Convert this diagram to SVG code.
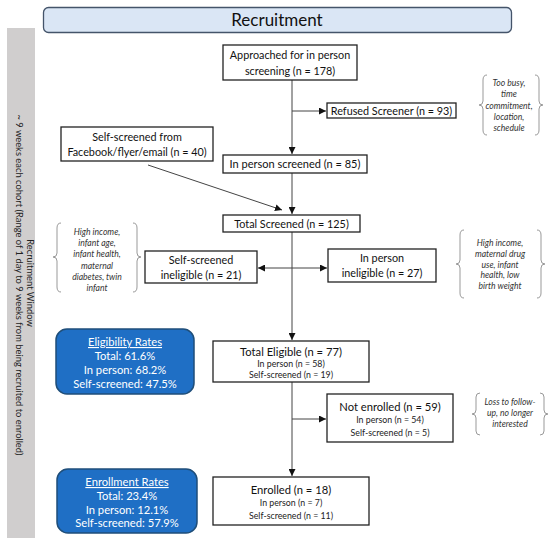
<svg xmlns="http://www.w3.org/2000/svg" width="550" height="549" viewBox="0 0 550 549">
<defs>
<marker id="ah" viewBox="0 0 10 10" refX="10" refY="5" markerWidth="7" markerHeight="7" markerUnits="userSpaceOnUse" orient="auto-start-reverse">
<path d="M0,0 L10,5 L0,10 Z" fill="#111"/>
</marker>
<style>
.box{fill:#fff;stroke:#222;stroke-width:1.3}
.t{font-family:Lato,"Liberation Sans",sans-serif;font-size:10.8px;fill:#111;text-anchor:middle}
.h{font-family:Lato,"Liberation Sans",sans-serif;font-size:11.2px;fill:#111;text-anchor:middle}
.s{font-family:Lato,"Liberation Sans",sans-serif;font-size:8.8px;fill:#222;text-anchor:middle}
.n{font-family:Lato,"Liberation Sans",sans-serif;font-size:8.6px;font-style:italic;fill:#333;text-anchor:middle}
.br{fill:none;stroke:#999;stroke-width:1}
.rate{fill:#1f6fc5;stroke:#1f4e79;stroke-width:1.5}
.w{font-family:Lato,"Liberation Sans",sans-serif;font-size:11.2px;fill:#fff;text-anchor:middle}
.ln{fill:none;stroke:#444;stroke-width:1}
.v{font-family:Lato,"Liberation Sans",sans-serif;font-size:9.4px;fill:#222;text-anchor:middle}
</style>
</defs>
<rect width="550" height="549" fill="#fff"/>

<g id="title">
<rect x="43.5" y="7.5" width="468" height="25" rx="5" fill="#dae6f5" stroke="#44546a" stroke-width="1.3"/>
<text x="277" y="26" class="t" style="font-size:17px">Recruitment</text>
</g>

<g id="window">
<rect x="7" y="28" width="28" height="510" fill="#d0cece"/>
<text transform="translate(27,283) rotate(90)" class="v">Recruitment Window</text>
<text transform="translate(16,285) rotate(90)" class="v">~ 9 weeks each cohort (Range of 1 day to 9 weeks from being recruited to enrolled)</text>
</g>

<g id="connectors">
<path class="ln" d="M292,80 V154" marker-end="url(#ah)"/>
<path class="ln" d="M292,111 H326" marker-end="url(#ah)"/>
<path class="ln" d="M292,173 V214" marker-end="url(#ah)"/>
<path class="ln" d="M148,165 L282,210" marker-end="url(#ah)"/>
<path class="ln" d="M292,232 V340" marker-end="url(#ah)"/>
<path class="ln" d="M258,268 H327" marker-start="url(#ah)" marker-end="url(#ah)"/>
<path class="ln" d="M292,382 V476" marker-end="url(#ah)"/>
<path class="ln" d="M292,419 H326" marker-end="url(#ah)"/>
</g>

<g id="approached">
<rect class="box" x="223" y="45" width="134" height="35"/>
<text x="290" y="59" class="t">Approached for in person</text>
<text x="290" y="74.5" class="t">screening (n = 178)</text>
</g>

<g id="refused">
<rect class="box" x="327" y="103" width="129" height="15"/>
<text x="391.5" y="114.5" class="t">Refused Screener (n = 93)</text>
</g>

<g id="note-refused">
<path class="br" d="M487,75 Q483,75 483,80 L483,101 Q483,105 479,105 Q483,105 483,109 L483,130 Q483,135 487,135"/>
<path class="br" d="M535,75 Q539,75 539,80 L539,101 Q539,105 543,105 Q539,105 539,109 L539,130 Q539,135 535,135"/>
<text x="509" y="86" class="n">Too busy,</text>
<text x="509" y="97" class="n">time</text>
<text x="509" y="109" class="n">commitment,</text>
<text x="509" y="120" class="n">location,</text>
<text x="509" y="131" class="n">schedule</text>
</g>

<g id="inperson-screened">
<rect class="box" x="223" y="155" width="144" height="18"/>
<text x="295" y="168" class="t" style="font-size:11px">In person screened (n = 85)</text>
</g>

<g id="self-screened">
<rect class="box" x="61" y="127" width="152" height="34"/>
<text x="137" y="141" class="t">Self-screened from</text>
<text x="137" y="155.5" class="t">Facebook/flyer/email (n = 40)</text>
</g>

<g id="total-screened">
<rect class="box" x="223" y="215" width="137" height="17"/>
<text x="291.5" y="227.5" class="t">Total Screened (n = 125)</text>
</g>

<g id="self-ineligible">
<rect class="box" x="145" y="251" width="112" height="32"/>
<text x="201" y="264" class="t">Self-screened</text>
<text x="201" y="278.5" class="t">ineligible (n = 21)</text>
</g>

<g id="inperson-ineligible">
<rect class="box" x="328" y="249" width="108" height="33"/>
<text x="382" y="262" class="t">In person</text>
<text x="382" y="277" class="t">ineligible  (n = 27)</text>
</g>

<g id="note-self-inelig">
<path class="br" d="M61,223 Q57,223 57,228 L57,253 Q57,257 53,257 Q57,257 57,261 L57,287 Q57,292 61,292"/>
<path class="br" d="M133,223 Q137,223 137,228 L137,253 Q137,257 141,257 Q137,257 137,261 L137,287 Q137,292 133,292"/>
<text x="97" y="235" class="n">High income,</text>
<text x="97" y="246" class="n">infant age,</text>
<text x="97" y="257" class="n">infant health,</text>
<text x="97" y="269" class="n">maternal</text>
<text x="97" y="280" class="n">diabetes, twin</text>
<text x="97" y="291" class="n">infant</text>
</g>

<g id="note-inperson-inelig">
<path class="br" d="M464,230 Q460,230 460,235 L460,260 Q460,264 456,264 Q460,264 460,268 L460,293 Q460,298 464,298"/>
<path class="br" d="M537,230 Q541,230 541,235 L541,260 Q541,264 545,264 Q541,264 541,268 L541,293 Q541,298 537,298"/>
<text x="500" y="246" class="n">High income,</text>
<text x="500" y="257" class="n">maternal drug</text>
<text x="500" y="268" class="n">use, infant</text>
<text x="500" y="278" class="n">health, low</text>
<text x="500" y="289" class="n">birth weight</text>
</g>

<g id="eligibility-rates">
<rect class="rate" x="56" y="329" width="138" height="65" rx="11"/>
<text x="125" y="346" class="w" text-decoration="underline">Eligibility Rates</text>
<text x="125" y="360" class="w">Total: 61.6%</text>
<text x="125" y="374" class="w">In person: 68.2%</text>
<text x="125" y="388" class="w">Self-screened: 47.5%</text>
</g>

<g id="total-eligible">
<rect class="box" x="213" y="341" width="156" height="41"/>
<text x="291" y="356" class="h">Total Eligible (n = 77)</text>
<text x="291" y="367" class="s">In person (n = 58)</text>
<text x="291" y="378" class="s">Self-screened (n = 19)</text>
</g>

<g id="not-enrolled">
<rect class="box" x="327" y="394" width="126" height="48"/>
<text x="390" y="411" class="h">Not enrolled (n = 59)</text>
<text x="390" y="423" class="s">In person (n = 54)</text>
<text x="390" y="436" class="s">Self-screened (n = 5)</text>
</g>

<g id="note-not-enrolled">
<path class="br" d="M480,393 Q476,393 476,397 L476,410 Q476,414 472,414 Q476,414 476,418 L476,431 Q476,435 480,435"/>
<path class="br" d="M540,393 Q544,393 544,397 L544,410 Q544,414 548,414 Q544,414 544,418 L544,431 Q544,435 540,435"/>
<text x="510" y="405" class="n">Loss to follow-</text>
<text x="510" y="416" class="n">up, no longer</text>
<text x="510" y="427" class="n">interested</text>
</g>

<g id="enrollment-rates">
<rect class="rate" x="57" y="469" width="140" height="64" rx="11"/>
<text x="127" y="486" class="w" text-decoration="underline">Enrollment Rates</text>
<text x="127" y="500" class="w">Total: 23.4%</text>
<text x="127" y="513.5" class="w">In person: 12.1%</text>
<text x="127" y="527" class="w">Self-screened: 57.9%</text>
</g>

<g id="enrolled">
<rect class="box" x="213" y="477" width="156" height="48"/>
<text x="291" y="494" class="h">Enrolled (n = 18)</text>
<text x="291" y="506" class="s">In person (n = 7)</text>
<text x="291" y="519" class="s">Self-screened (n = 11)</text>
</g>
</svg>
